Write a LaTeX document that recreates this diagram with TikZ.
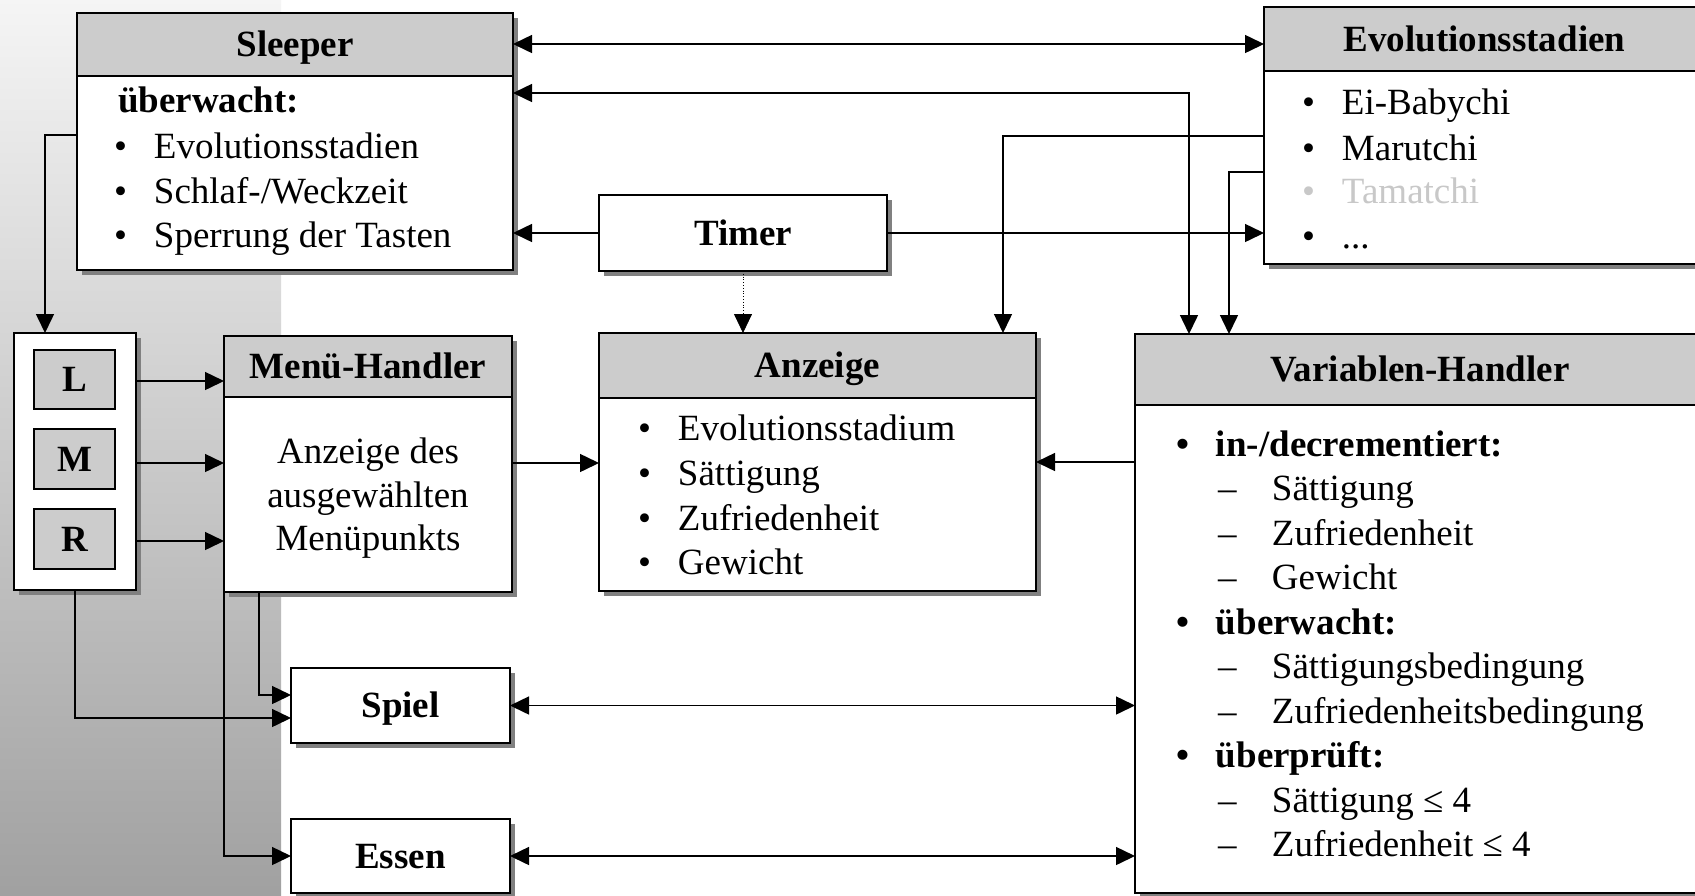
\documentclass[tikz,border=0pt]{standalone}
\usepackage{fontspec}
\setmainfont{Liberation Serif}
\usetikzlibrary{arrows.meta,shadows}
\definecolor{hdrgray}{HTML}{CCCCCC}
\definecolor{shadowgray}{HTML}{808080}
\definecolor{fadedtxt}{HTML}{C8C8C8}
\newcommand\bigfs{\fontsize{37}{44}\selectfont}
\begin{document}
\begin{tikzpicture}[x=1pt,y=-1pt,
  line width=1.5pt,
  >={Triangle[length=19pt,width=18pt]},
  box/.style={draw, fill=white, line width=1.5pt, inner sep=0pt, outer sep=0pt, anchor=north west,
    drop shadow={shadow xshift=5pt, shadow yshift=-5pt, fill=shadowgray, opacity=1}},
  hdr/.style={draw, fill=hdrgray, line width=1.5pt, inner sep=0pt, outer sep=0pt, anchor=north west,
    font=\bigfs\bfseries, text height=24pt, text depth=0pt},
  single/.style={box, font=\bigfs\bfseries, text height=24pt, text depth=0pt},
  btn/.style={draw, fill=hdrgray, line width=1.5pt, inner sep=0pt, outer sep=0pt, anchor=north west,
    font=\bigfs\bfseries, text height=24pt, text depth=0pt, minimum width=81pt},
  txt/.style={anchor=base west, inner sep=0pt, outer sep=0pt, font=\bigfs},
  btxt/.style={txt, font=\bigfs\bfseries},
  ctxt/.style={anchor=base, inner sep=0pt, outer sep=0pt, font=\bigfs},
]
\useasboundingbox (0,0) rectangle (1695,895);
\fill[white] (0,0) rectangle (1695,895);
\shade[top color=black!4, bottom color=black!37] (0,0) rectangle (281,895);

% ---------- Sleeper ----------
\node[box, minimum width=436pt, minimum height=257pt] (sleeper) at (77,13) {};
\node[hdr, minimum width=436pt, minimum height=63pt] (sleeperh) at (77,13) {Sleeper};
\node[btxt] (s0) at (118,112) {überwacht:};
\node[txt] (s1) at (114,158) {\makebox[40pt][l]{•}Evolutionsstadien};
\node[txt] (s2) at (114,203) {\makebox[40pt][l]{•}Schlaf-/Weckzeit};
\node[txt] (s3) at (114,247) {\makebox[40pt][l]{•}Sperrung der Tasten};

% ---------- Evolutionsstadien ----------
\node[box, minimum width=441pt, minimum height=257pt] (evol) at (1264,7) {};
\node[hdr, minimum width=441pt, minimum height=64pt] (evolh) at (1264,7) {Evolutionsstadien};
\node[txt] (e1) at (1302,114) {\makebox[40pt][l]{•}Ei-Babychi};
\node[txt] (e2) at (1302,160) {\makebox[40pt][l]{•}Marutchi};
\node[txt, text=fadedtxt] (e3) at (1302,203) {\makebox[40pt][l]{•}Tamatchi};
\node[txt] (e4) at (1302,248) {\makebox[40pt][l]{•}...};

% ---------- Timer ----------
\node[single, minimum width=288pt, minimum height=76pt] (timer) at (599,195) {Timer};

% ---------- Buttons panel ----------
\node[box, minimum width=122pt, minimum height=257pt] (panel) at (14,333) {};
\node[btn, minimum height=59pt] (bL) at (34,350) {L};
\node[btn, minimum height=60pt] (bM) at (34,429) {M};
\node[btn, minimum height=60pt] (bR) at (34,509) {R};

% ---------- Menue-Handler ----------
\node[box, minimum width=288pt, minimum height=256pt] (menu) at (224,336) {};
\node[hdr, minimum width=288pt, minimum height=61pt] (menuh) at (224,336) {Menü-Handler};
\node[ctxt] (m1) at (368,463) {Anzeige des};
\node[ctxt] (m2) at (368,507) {ausgewählten};
\node[ctxt] (m3) at (368,550) {Menüpunkts};

% ---------- Anzeige ----------
\node[box, minimum width=437pt, minimum height=258pt] (anz) at (599,333) {};
\node[hdr, minimum width=437pt, minimum height=65pt] (anzh) at (599,333) {Anzeige};
\node[txt] (a1) at (638,440) {\makebox[40pt][l]{•}Evolutionsstadium};
\node[txt] (a2) at (638,485) {\makebox[40pt][l]{•}Sättigung};
\node[txt] (a3) at (638,530) {\makebox[40pt][l]{•}Zufriedenheit};
\node[txt] (a4) at (638,574) {\makebox[40pt][l]{•}Gewicht};

% ---------- Variablen-Handler ----------
\node[box, minimum width=570pt, minimum height=559pt] (vh) at (1135,334) {};
\node[hdr, minimum width=570pt, minimum height=71pt] (vhh) at (1135,334) {Variablen-Handler};
\node[btxt] (v1) at (1176,456) {\makebox[40pt][l]{•}in-/decrementiert:};
\node[txt] (v2) at (1218,500) {\makebox[54pt][l]{–}Sättigung};
\node[txt] (v3) at (1218,545) {\makebox[54pt][l]{–}Zufriedenheit};
\node[txt] (v4) at (1218,589) {\makebox[54pt][l]{–}Gewicht};
\node[btxt] (v5) at (1176,634) {\makebox[40pt][l]{•}überwacht:};
\node[txt] (v6) at (1218,678) {\makebox[54pt][l]{–}Sättigungsbedingung};
\node[txt] (v7) at (1218,723) {\makebox[54pt][l]{–}Zufriedenheitsbedingung};
\node[btxt] (v8) at (1176,767) {\makebox[40pt][l]{•}überprüft:};
\node[txt] (v9) at (1218,812) {\makebox[54pt][l]{–}Sättigung ≤ 4};
\node[txt] (v10) at (1218,856) {\makebox[54pt][l]{–}Zufriedenheit ≤ 4};

% ---------- Spiel / Essen ----------
\node[single, minimum width=219pt, minimum height=75pt] (spiel) at (291,668) {Spiel};
\node[single, minimum width=219pt, minimum height=74pt] (essen) at (291,819) {Essen};

% ---------- connectors ----------
\draw[<->] (sleeper.east |- 0,44) -- (evol.west |- 0,44);
\draw[<->] (sleeper.east |- 0,93) -| (vh.north -| 1189,0);
\draw[->] (timer.west) -- (sleeper.east |- timer.west);
\draw[->] (timer.east) -- (evol.west |- timer.east);
\draw[->, line width=0.8pt, dotted] (timer.south) -- (anz.north -| timer.south);
\draw[->] (evol.west |- 0,136) -| (anz.north -| 1003,0);
\draw[->] (evol.west |- 0,172) -| (vh.north -| 1229,0);
\draw[->] (sleeper.west |- 0,135) -| (panel.north -| 45,0);
\draw[->] (panel.east |- 0,381) -- (menu.west |- 0,381);
\draw[->] (panel.east |- 0,463) -- (menu.west |- 0,463);
\draw[->] (panel.east |- 0,541) -- (menu.west |- 0,541);
\draw[->] (menu.east |- 0,463) -- (anz.west |- 0,463);
\draw[->] (vh.west |- 0,462) -- (anz.east |- 0,462);
\draw[->] (menu.south -| 259,0) |- (spiel.west |- 0,695);
\draw[->] (panel.south) |- (spiel.west |- 0,718);
\draw[->] (menu.south west) |- (essen.west);
\draw[<->] (spiel.east) -- (vh.west |- spiel.east);
\draw[<->] (essen.east) -- (vh.west |- essen.east);
\end{tikzpicture}
\end{document}
